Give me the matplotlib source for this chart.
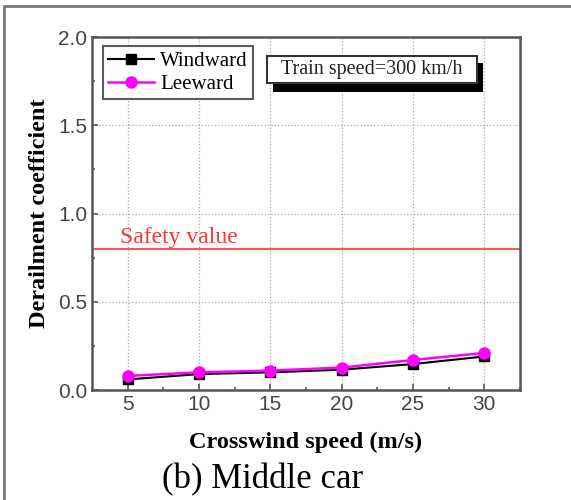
import numpy as np
import matplotlib.pyplot as plt
from matplotlib.patches import Rectangle
from matplotlib.ticker import MultipleLocator

wind_speed = [5, 10, 15, 20, 25, 30]
windward = [0.06, 0.09, 0.10, 0.115, 0.147, 0.19]
leeward = [0.08, 0.10, 0.11, 0.127, 0.17, 0.21]
safety = 0.8

W, H = 571, 500
fig = plt.figure(figsize=(W / 100, H / 100), dpi=100)
# outer frame of the panel
fig.patches.append(Rectangle((4 / W, -0.1), 1.2, 1.1 - 6 / H, transform=fig.transFigure,
                             fill=False, edgecolor='#777777', lw=2))

ax = fig.add_axes([92 / W, 110 / H, 428 / W, 353 / H])
ax.set_xlim(2.5, 32.5)
ax.set_ylim(0, 2.0)
ax.xaxis.set_major_locator(MultipleLocator(5))
ax.xaxis.set_minor_locator(MultipleLocator(2.5))
ax.yaxis.set_minor_locator(MultipleLocator(0.25))
ax.set_yticks([0, 0.5, 1.0, 1.5, 2.0])
ax.set_yticklabels(['0.0', '0.5', '1.0', '1.5', '2.0'])
ax.grid(True, which='major', color='#aaaaaa', ls=':', lw=0.9)
ax.tick_params(which='both', direction='in', colors='#555555', labelcolor='#444444',
               labelsize=15, width=1.2)
ax.tick_params(which='major', length=4)
ax.tick_params(which='minor', length=2.5)
for lab in ax.get_xticklabels() + ax.get_yticklabels():
    lab.set_family('Liberation Sans')
for s in ax.spines.values():
    s.set_color('#555555')
    s.set_linewidth(1.8)

ax.axhline(safety, color='#ff5555', lw=1.5)
ax.text(4.45, 0.835, 'Safety value', color='#ff3333', family='Liberation Serif', fontsize=17)

ax.plot(wind_speed, windward, color='black', marker='s', ms=7, lw=1.5, label='Windward')
ax.plot(wind_speed, leeward, color='#ff00ff', marker='o', ms=8, lw=1.8, label='Leeward')

leg = ax.legend(loc='upper left', bbox_to_anchor=(0.015, 0.985), fancybox=False,
                edgecolor='#333333', prop={'family': 'Liberation Serif', 'size': 15},
                handlelength=2.2, handletextpad=0.3, borderpad=0.25, labelspacing=0.15,
                borderaxespad=0.2)
leg.get_frame().set_linewidth(1.5)

# "Train speed" box with drop shadow (pixel positions from the reference)
def axfrac(px, py):
    return (px - 92) / 428, (390 - py) / 353

sx0, sy0 = axfrac(273, 92)
sx1, sy1 = axfrac(483, 63)
ax.add_patch(Rectangle((sx0, sy0), sx1 - sx0, sy1 - sy0, transform=ax.transAxes,
                       fc='black', ec='none', zorder=4))
bx0, by0 = axfrac(267, 83)
bx1, by1 = axfrac(477, 56)
ax.add_patch(Rectangle((bx0, by0), bx1 - bx0, by1 - by0, transform=ax.transAxes,
                       fc='white', ec='#333333', lw=1.5, zorder=5))
ax.text((bx0 + bx1) / 2, (by0 + by1) / 2, 'Train speed=300 km/h', transform=ax.transAxes,
        ha='center', va='center', family='Liberation Serif', fontsize=14.5,
        color='#222222', zorder=6)

ax.set_ylabel('Derailment coefficient', family='Liberation Serif', fontweight='bold',
              fontsize=17.5, labelpad=6)
ax.set_xlabel('Crosswind speed (m/s)', family='Liberation Serif', fontweight='bold',
              fontsize=17.5, labelpad=13)
fig.text(263 / W, 1 - 480 / H, '(b) Middle car', ha='center', va='center',
         family='Liberation Serif', fontsize=25)

fig.savefig('out.png', dpi=100)
